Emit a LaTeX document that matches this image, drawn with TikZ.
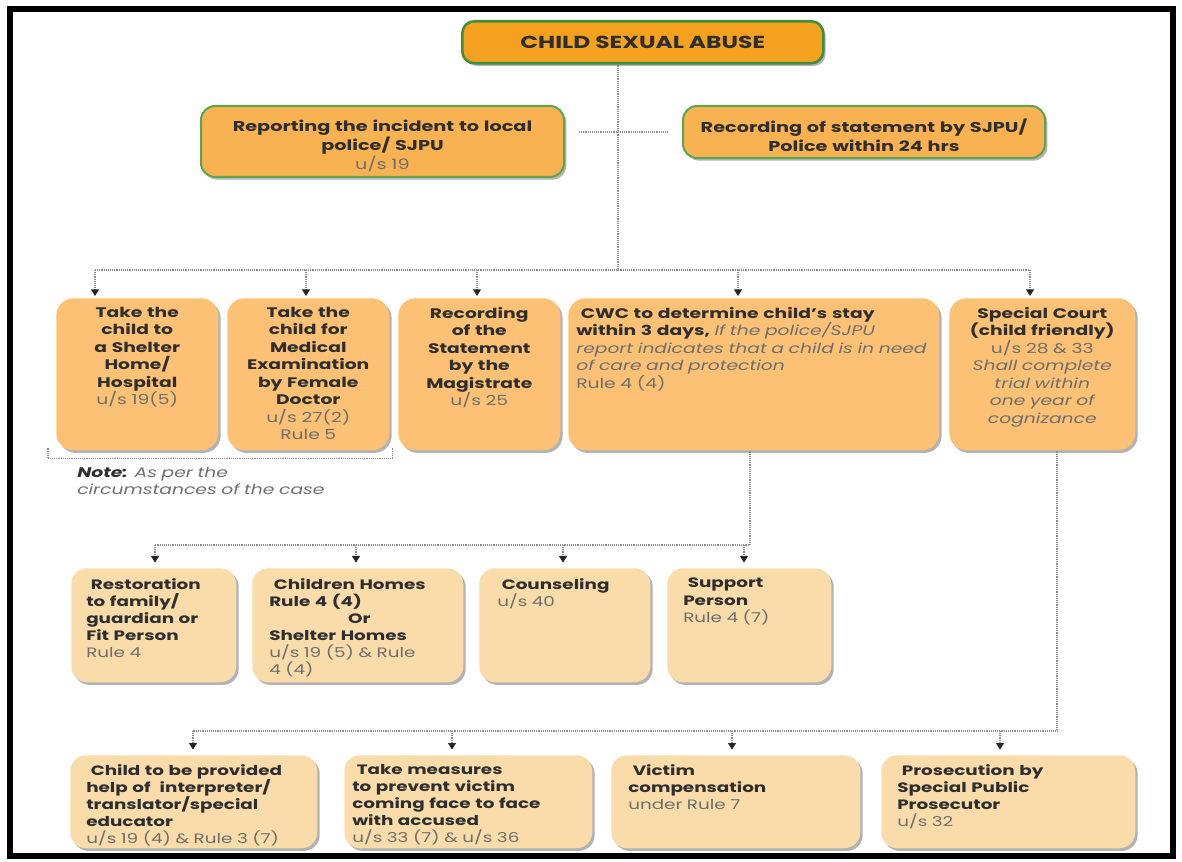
\documentclass[tikz,border=0pt]{standalone}
\usepackage{fontspec}
\setmainfont{Poppins}[FakeStretch=1.35]
\usetikzlibrary{arrows.meta,shadows}

\newlength{\px}
\setlength{\px}{0.75pt}

\definecolor{titlefill}{HTML}{F4A11F}
\definecolor{titlegreen}{HTML}{3F8F3C}
\definecolor{greenline}{HTML}{5BA64C}
\definecolor{reportfill}{HTML}{F8B252}
\definecolor{orangefill}{HTML}{FCC175}
\definecolor{peachfill}{HTML}{F9DCAA}
\definecolor{inkdark}{HTML}{2E2E2E}
\definecolor{inkgray}{HTML}{6E6E6E}
\definecolor{linkgray}{HTML}{8C8C8C}

\tikzset{
    basebox/.style={anchor=north west, inner sep=0pt, rounded corners=10.5pt,
        drop shadow={shadow xshift=1.8pt, shadow yshift=-2pt, opacity=0.3, fill=black}},
    titlebox/.style={basebox, draw=titlegreen, line width=1.9pt, fill=titlefill, rounded corners=9pt,
        text=inkdark, font=\fontsize{13}{16}\selectfont\bfseries},
    greenbox/.style={basebox, draw=greenline, line width=1.5pt, fill=reportfill},
    orangebox/.style={basebox, fill=orangefill, rounded corners=13pt},
    peachbox/.style={basebox, fill=peachfill, rounded corners=12pt},
    bigtext/.style={inner sep=0pt, text=inkdark, font=\fontsize{10.7}{14.2}\selectfont},
    midtext/.style={inner sep=0pt, text=inkdark, font=\fontsize{10.4}{13.1}\selectfont},
    smalltext/.style={inner sep=0pt, text=inkdark, font=\fontsize{10.2}{12.8}\selectfont},
    link/.style={draw=linkgray, line width=0.8pt, dash pattern=on 0.7pt off 0.7pt},
    linkarrow/.style={link, -{Triangle[width=6pt, length=5pt, color=black!85]}}
}

\newcommand{\sub}[1]{\textcolor{inkgray}{#1}}

\begin{document}
\begin{tikzpicture}[x=0.75pt, y=-0.75pt]
    \useasboundingbox (0,0) rectangle (1182,862);
    \draw[line width=4.5pt] (10,9) rectangle (1173,856);

    % title and first reports
    \node[titlebox, minimum width=361\px, minimum height=42\px] (abuse) at (461,20) {CHILD SEXUAL ABUSE};
    \node[greenbox, minimum width=363\px, minimum height=71\px] (report) at (200,105) {};
    \node[bigtext, anchor=north, text width=350\px, align=center] (reportText) at ([shift={(0,15)}]report.north)
        {{\bfseries Reporting the incident to local\\police/ SJPU}\\\sub{u/s 19}};
    \node[greenbox, minimum width=362\px, minimum height=52\px] (statement) at (682,105) {};
    \node[bigtext, anchor=north, text width=350\px, align=center] (statementText) at ([shift={(0,14)}]statement.north)
        {\bfseries Recording of statement by SJPU/\\Police within 24 hrs};

    % second row
    \node[orangebox, minimum width=162\px, minimum height=152\px] (shelter) at (56,298) {};
    \node[midtext, anchor=north, text width=152\px, align=center] (shelterText) at ([shift={(0,9)}]shelter.north)
        {{\bfseries Take the\\child to\\a Shelter\\Home/\\Hospital}\\\sub{u/s 19(5)}};
    \node[orangebox, minimum width=162\px, minimum height=152\px] (medical) at (227,298) {};
    \node[midtext, anchor=north, text width=152\px, align=center] (medicalText) at ([shift={(0,9)}]medical.north)
        {{\bfseries Take the\\child for\\Medical\\Examination\\by Female\\Doctor}\\\sub{u/s 27(2)\\Rule 5}};
    \node[orangebox, minimum width=162\px, minimum height=152\px] (magistrate) at (398,298) {};
    \node[midtext, anchor=north, text width=152\px, align=center] (magistrateText) at ([shift={(0,9)}]magistrate.north)
        {{\bfseries Recording\\of the\\Statement\\by the\\Magistrate}\\\sub{u/s 25}};
    \node[orangebox, minimum width=371\px, minimum height=152\px] (cwc) at (568,298) {};
    \node[midtext, anchor=north west, text width=370\px, align=left] (cwcText) at ([shift={(8,9)}]cwc.north west)
        {{\bfseries\ CWC to determine child's stay\\within 3 days,} \sub{\itshape If the police/SJPU\\report indicates that a child is in need\\of care and protection}\\\sub{Rule 4 (4)}};
    \node[orangebox, minimum width=186\px, minimum height=152\px] (court) at (949,298) {};
    \node[midtext, anchor=north, text width=180\px, align=center] (courtText) at ([shift={(0,9)}]court.north)
        {{\bfseries Special Court\\(child friendly)}\\\sub{u/s 28 \& 33}\\\sub{\itshape Shall complete\\trial within\\one year of\\cognizance}};

    \draw[link] ([shift={(-8,-3)}]shelter.south west) -- ([shift={(-8,8)}]shelter.south west)
        -- ([shift={(3,8)}]medical.south east) -- ([shift={(3,-3)}]medical.south east);
    \node[midtext, anchor=north west, text width=320\px, align=left] (note) at ([shift={(21,16)}]shelter.south west)
        {{\bfseries\itshape Note:} \sub{\itshape As per the\\circumstances of the case}};

    % third row
    \node[peachbox, minimum width=165\px, minimum height=114\px] (restore) at (71,568) {};
    \node[smalltext, anchor=north west, text width=150\px, align=left] (restoreText) at ([shift={(15,10)}]restore.north west)
        {{\bfseries\ Restoration\\to family/\\guardian or\\Fit Person}\\\sub{Rule 4}};
    \node[peachbox, minimum width=211\px, minimum height=114\px] (homes) at (252,568) {};
    \node[smalltext, anchor=north west, text width=180\px, align=left] (homesText) at ([shift={(17,10)}]homes.north west)
        {{\bfseries\ Children Homes\\Rule 4 (4)\\\makebox[\linewidth][c]{Or}\\Shelter Homes}\\\sub{u/s 19 (5) \& Rule\\4 (4)}};
    \node[peachbox, minimum width=171\px, minimum height=114\px] (counsel) at (479,568) {};
    \node[smalltext, anchor=north west, text width=150\px, align=left] (counselText) at ([shift={(18,10)}]counsel.north west)
        {{\bfseries\ Counseling}\\\sub{u/s 40}};
    \node[peachbox, minimum width=164\px, minimum height=114\px] (support) at (667,568) {};
    \node[smalltext, anchor=north west, text width=140\px, align=left] (supportText) at ([shift={(16,10)}]support.north west)
        {{\bfseries\ Support\\Person}\\\sub{Rule 4 (7)}};

    % fourth row
    \node[peachbox, minimum width=247\px, minimum height=93\px] (interpreter) at (70,755) {};
    \node[smalltext, anchor=north west, text width=230\px, align=left] (interpreterText) at ([shift={(16,9)}]interpreter.north west)
        {{\bfseries\ Child to be provided\\help of \ interpreter/\\translator/special\\educator}\\\sub{u/s 19 (4) \& Rule 3 (7)}};
    \node[peachbox, minimum width=248\px, minimum height=93\px] (measures) at (344,755) {};
    \node[smalltext, anchor=north west, text width=235\px, align=left] (measuresText) at ([shift={(8,9)}]measures.north west)
        {{\bfseries\ Take measures\\to prevent victim\\coming face to face\\with accused}\\\sub{u/s 33 (7) \& u/s 36}};
    \node[peachbox, minimum width=249\px, minimum height=93\px] (compensation) at (611,755) {};
    \node[smalltext, anchor=north west, text width=230\px, align=left] (compensationText) at ([shift={(17,9)}]compensation.north west)
        {{\bfseries\ Victim\\compensation}\\\sub{under Rule 7}};
    \node[peachbox, minimum width=254\px, minimum height=93\px] (prosecution) at (881,755) {};
    \node[smalltext, anchor=north west, text width=230\px, align=left] (prosecutionText) at ([shift={(16,9)}]prosecution.north west)
        {{\bfseries\ Prosecution by\\Special Public\\Prosecutor}\\\sub{u/s 32}};

    % connectors
    \coordinate (hub) at (618,270);
    \coordinate (toShelter) at (95,270);
    \coordinate (toMedical) at (306,270);
    \coordinate (toMagistrate) at (477,270);
    \coordinate (toCwc) at (738,270);
    \coordinate (toCourt) at (1030,270);
    \draw[link] (abuse.south -| hub) -- (hub);
    \draw[link] (toShelter) -- (toCourt);
    \draw[link] ([shift={(14,0)}]report.east |- statement.west) -- ([shift={(-15,0)}]statement.west);
    \foreach \from/\to in {toShelter/shelter, toMedical/medical, toMagistrate/magistrate, toCwc/cwc, toCourt/court}
        \draw[linkarrow] (\from) -- ([yshift=1.5pt]\from |- \to.north);

    \coordinate (cwcFork) at (750,545);
    \coordinate (toRestore) at (155,545);
    \coordinate (toHomes) at (356,545);
    \coordinate (toCounsel) at (563,545);
    \coordinate (toSupport) at (744,545);
    \draw[link] (cwc.south -| cwcFork) -- (cwcFork) -- (toRestore);
    \foreach \from/\to in {toRestore/restore, toHomes/homes, toCounsel/counsel, toSupport/support}
        \draw[linkarrow] (\from) -- ([yshift=4pt]\from |- \to.north);

    \coordinate (courtFork) at (1057,731);
    \coordinate (toInterpreter) at (193,731);
    \coordinate (toMeasures) at (452,731);
    \coordinate (toCompensation) at (732,731);
    \coordinate (toProsecution) at (1000,731);
    \draw[link] (court.south -| courtFork) -- (courtFork) -- (toInterpreter);
    \foreach \from/\to in {toInterpreter/interpreter, toMeasures/measures, toCompensation/compensation, toProsecution/prosecution}
        \draw[linkarrow] (\from) -- ([yshift=4pt]\from |- \to.north);
\end{tikzpicture}
\end{document}
